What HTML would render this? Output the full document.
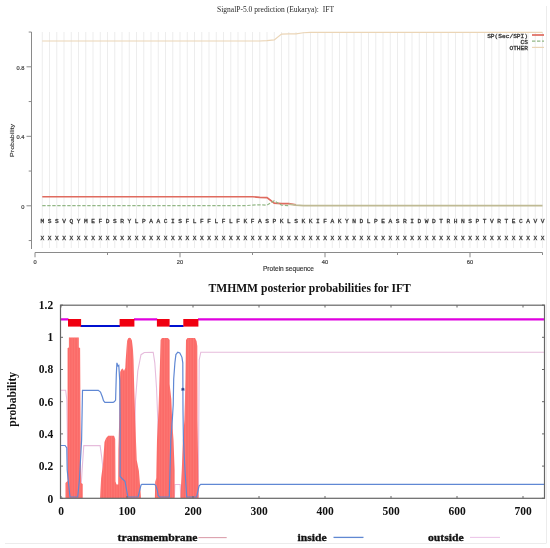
<!DOCTYPE html><html><head><meta charset="utf-8"><style>html,body{margin:0;padding:0;background:#fff;}svg{display:block;will-change:transform;filter:blur(0.3px);}</style></head><body>
<svg width="550" height="548" viewBox="0 0 550 548">
<rect width="550" height="548" fill="#fff"/>
<text x="217" y="11.9" font-family="Liberation Serif" font-size="8.4" fill="#2a2a2a" textLength="117" lengthAdjust="spacingAndGlyphs">SignalP-5.0 prediction (Eukarya):&#160; IFT</text>
<path d="M42.25 32V248 M49.50 32V248 M56.75 32V248 M64.00 32V248 M71.25 32V248 M78.50 32V248 M85.75 32V248 M93.00 32V248 M100.25 32V248 M107.50 32V248 M114.75 32V248 M122.00 32V248 M129.25 32V248 M136.50 32V248 M143.75 32V248 M151.00 32V248 M158.25 32V248 M165.50 32V248 M172.75 32V248 M180.00 32V248 M187.25 32V248 M194.50 32V248 M201.75 32V248 M209.00 32V248 M216.25 32V248 M223.50 32V248 M230.75 32V248 M238.00 32V248 M245.25 32V248 M252.50 32V248 M259.75 32V248 M267.00 32V248 M274.25 32V248 M281.50 32V248 M288.75 32V248 M296.00 32V248 M303.25 32V248 M310.50 32V248 M317.75 32V248 M325.00 32V248 M332.25 32V248 M339.50 32V248 M346.75 32V248 M354.00 32V248 M361.25 32V248 M368.50 32V248 M375.75 32V248 M383.00 32V248 M390.25 32V248 M397.50 32V248 M404.75 32V248 M412.00 32V248 M419.25 32V248 M426.50 32V248 M433.75 32V248 M441.00 32V248 M448.25 32V248 M455.50 32V248 M462.75 32V248 M470.00 32V248 M477.25 32V248 M484.50 32V248 M491.75 32V248 M499.00 32V248 M506.25 32V248 M513.50 32V248 M520.75 32V248 M528.00 32V248 M535.25 32V248 M542.50 32V248" stroke="#e9e9e9" stroke-width="0.8" fill="none"/>
<path d="M31.5 32V249" stroke="#8a8a8a" stroke-width="1" fill="none"/>
<path d="M28.7 32.05H31.5 M26.5 66.80H31.5 M28.7 101.55H31.5 M26.5 136.30H31.5 M28.7 171.05H31.5 M26.5 205.80H31.5 M28.7 240.55H31.5" stroke="#8a8a8a" stroke-width="1" fill="none"/>
<text x="24.4" y="69.60" font-family="Liberation Sans" font-size="5.7" fill="#444" stroke="#444" stroke-width="0.2" text-anchor="end">0.8</text>
<text x="24.4" y="139.10" font-family="Liberation Sans" font-size="5.7" fill="#444" stroke="#444" stroke-width="0.2" text-anchor="end">0.4</text>
<text x="24.4" y="208.60" font-family="Liberation Sans" font-size="5.7" fill="#444" stroke="#444" stroke-width="0.2" text-anchor="end">0</text>
<text transform="translate(14,140.5) rotate(-90)" font-family="Liberation Sans" font-size="6.2" fill="#333" stroke="#333" stroke-width="0.15" text-anchor="middle" textLength="32.8" lengthAdjust="spacingAndGlyphs">Probability</text>
<path d="M35.00 252.5H542.50" stroke="#8a8a8a" stroke-width="1.1" fill="none"/>
<path d="M35.00 252.5V257.3 M107.50 252.5V255 M180.00 252.5V257.3 M252.50 252.5V255 M325.00 252.5V257.3 M397.50 252.5V255 M470.00 252.5V257.3 M542.50 252.5V255" stroke="#8a8a8a" stroke-width="1" fill="none"/>
<text x="35.00" y="263.7" font-family="Liberation Sans" font-size="5.7" fill="#444" stroke="#444" stroke-width="0.2" text-anchor="middle">0</text>
<text x="180.00" y="263.7" font-family="Liberation Sans" font-size="5.7" fill="#444" stroke="#444" stroke-width="0.2" text-anchor="middle">20</text>
<text x="325.00" y="263.7" font-family="Liberation Sans" font-size="5.7" fill="#444" stroke="#444" stroke-width="0.2" text-anchor="middle">40</text>
<text x="470.00" y="263.7" font-family="Liberation Sans" font-size="5.7" fill="#444" stroke="#444" stroke-width="0.2" text-anchor="middle">60</text>
<text x="263" y="271.2" font-family="Liberation Sans" font-size="7.1" fill="#333" stroke="#333" stroke-width="0.15" textLength="51" lengthAdjust="spacingAndGlyphs">Protein sequence</text>
<text x="42.25" y="223.2" font-family="Liberation Mono" font-size="6.2" fill="#3a3a3a" stroke="#3a3a3a" stroke-width="0.3" text-anchor="middle">M</text>
<text x="49.50" y="223.2" font-family="Liberation Mono" font-size="6.2" fill="#3a3a3a" stroke="#3a3a3a" stroke-width="0.3" text-anchor="middle">S</text>
<text x="56.75" y="223.2" font-family="Liberation Mono" font-size="6.2" fill="#3a3a3a" stroke="#3a3a3a" stroke-width="0.3" text-anchor="middle">S</text>
<text x="64.00" y="223.2" font-family="Liberation Mono" font-size="6.2" fill="#3a3a3a" stroke="#3a3a3a" stroke-width="0.3" text-anchor="middle">V</text>
<text x="71.25" y="223.2" font-family="Liberation Mono" font-size="6.2" fill="#3a3a3a" stroke="#3a3a3a" stroke-width="0.3" text-anchor="middle">Q</text>
<text x="78.50" y="223.2" font-family="Liberation Mono" font-size="6.2" fill="#3a3a3a" stroke="#3a3a3a" stroke-width="0.3" text-anchor="middle">Y</text>
<text x="85.75" y="223.2" font-family="Liberation Mono" font-size="6.2" fill="#3a3a3a" stroke="#3a3a3a" stroke-width="0.3" text-anchor="middle">M</text>
<text x="93.00" y="223.2" font-family="Liberation Mono" font-size="6.2" fill="#3a3a3a" stroke="#3a3a3a" stroke-width="0.3" text-anchor="middle">E</text>
<text x="100.25" y="223.2" font-family="Liberation Mono" font-size="6.2" fill="#3a3a3a" stroke="#3a3a3a" stroke-width="0.3" text-anchor="middle">F</text>
<text x="107.50" y="223.2" font-family="Liberation Mono" font-size="6.2" fill="#3a3a3a" stroke="#3a3a3a" stroke-width="0.3" text-anchor="middle">D</text>
<text x="114.75" y="223.2" font-family="Liberation Mono" font-size="6.2" fill="#3a3a3a" stroke="#3a3a3a" stroke-width="0.3" text-anchor="middle">S</text>
<text x="122.00" y="223.2" font-family="Liberation Mono" font-size="6.2" fill="#3a3a3a" stroke="#3a3a3a" stroke-width="0.3" text-anchor="middle">R</text>
<text x="129.25" y="223.2" font-family="Liberation Mono" font-size="6.2" fill="#3a3a3a" stroke="#3a3a3a" stroke-width="0.3" text-anchor="middle">Y</text>
<text x="136.50" y="223.2" font-family="Liberation Mono" font-size="6.2" fill="#3a3a3a" stroke="#3a3a3a" stroke-width="0.3" text-anchor="middle">L</text>
<text x="143.75" y="223.2" font-family="Liberation Mono" font-size="6.2" fill="#3a3a3a" stroke="#3a3a3a" stroke-width="0.3" text-anchor="middle">P</text>
<text x="151.00" y="223.2" font-family="Liberation Mono" font-size="6.2" fill="#3a3a3a" stroke="#3a3a3a" stroke-width="0.3" text-anchor="middle">A</text>
<text x="158.25" y="223.2" font-family="Liberation Mono" font-size="6.2" fill="#3a3a3a" stroke="#3a3a3a" stroke-width="0.3" text-anchor="middle">A</text>
<text x="165.50" y="223.2" font-family="Liberation Mono" font-size="6.2" fill="#3a3a3a" stroke="#3a3a3a" stroke-width="0.3" text-anchor="middle">C</text>
<text x="172.75" y="223.2" font-family="Liberation Mono" font-size="6.2" fill="#3a3a3a" stroke="#3a3a3a" stroke-width="0.3" text-anchor="middle">I</text>
<text x="180.00" y="223.2" font-family="Liberation Mono" font-size="6.2" fill="#3a3a3a" stroke="#3a3a3a" stroke-width="0.3" text-anchor="middle">S</text>
<text x="187.25" y="223.2" font-family="Liberation Mono" font-size="6.2" fill="#3a3a3a" stroke="#3a3a3a" stroke-width="0.3" text-anchor="middle">F</text>
<text x="194.50" y="223.2" font-family="Liberation Mono" font-size="6.2" fill="#3a3a3a" stroke="#3a3a3a" stroke-width="0.3" text-anchor="middle">L</text>
<text x="201.75" y="223.2" font-family="Liberation Mono" font-size="6.2" fill="#3a3a3a" stroke="#3a3a3a" stroke-width="0.3" text-anchor="middle">F</text>
<text x="209.00" y="223.2" font-family="Liberation Mono" font-size="6.2" fill="#3a3a3a" stroke="#3a3a3a" stroke-width="0.3" text-anchor="middle">F</text>
<text x="216.25" y="223.2" font-family="Liberation Mono" font-size="6.2" fill="#3a3a3a" stroke="#3a3a3a" stroke-width="0.3" text-anchor="middle">L</text>
<text x="223.50" y="223.2" font-family="Liberation Mono" font-size="6.2" fill="#3a3a3a" stroke="#3a3a3a" stroke-width="0.3" text-anchor="middle">F</text>
<text x="230.75" y="223.2" font-family="Liberation Mono" font-size="6.2" fill="#3a3a3a" stroke="#3a3a3a" stroke-width="0.3" text-anchor="middle">L</text>
<text x="238.00" y="223.2" font-family="Liberation Mono" font-size="6.2" fill="#3a3a3a" stroke="#3a3a3a" stroke-width="0.3" text-anchor="middle">F</text>
<text x="245.25" y="223.2" font-family="Liberation Mono" font-size="6.2" fill="#3a3a3a" stroke="#3a3a3a" stroke-width="0.3" text-anchor="middle">K</text>
<text x="252.50" y="223.2" font-family="Liberation Mono" font-size="6.2" fill="#3a3a3a" stroke="#3a3a3a" stroke-width="0.3" text-anchor="middle">F</text>
<text x="259.75" y="223.2" font-family="Liberation Mono" font-size="6.2" fill="#3a3a3a" stroke="#3a3a3a" stroke-width="0.3" text-anchor="middle">A</text>
<text x="267.00" y="223.2" font-family="Liberation Mono" font-size="6.2" fill="#3a3a3a" stroke="#3a3a3a" stroke-width="0.3" text-anchor="middle">S</text>
<text x="274.25" y="223.2" font-family="Liberation Mono" font-size="6.2" fill="#3a3a3a" stroke="#3a3a3a" stroke-width="0.3" text-anchor="middle">P</text>
<text x="281.50" y="223.2" font-family="Liberation Mono" font-size="6.2" fill="#3a3a3a" stroke="#3a3a3a" stroke-width="0.3" text-anchor="middle">K</text>
<text x="288.75" y="223.2" font-family="Liberation Mono" font-size="6.2" fill="#3a3a3a" stroke="#3a3a3a" stroke-width="0.3" text-anchor="middle">L</text>
<text x="296.00" y="223.2" font-family="Liberation Mono" font-size="6.2" fill="#3a3a3a" stroke="#3a3a3a" stroke-width="0.3" text-anchor="middle">S</text>
<text x="303.25" y="223.2" font-family="Liberation Mono" font-size="6.2" fill="#3a3a3a" stroke="#3a3a3a" stroke-width="0.3" text-anchor="middle">K</text>
<text x="310.50" y="223.2" font-family="Liberation Mono" font-size="6.2" fill="#3a3a3a" stroke="#3a3a3a" stroke-width="0.3" text-anchor="middle">K</text>
<text x="317.75" y="223.2" font-family="Liberation Mono" font-size="6.2" fill="#3a3a3a" stroke="#3a3a3a" stroke-width="0.3" text-anchor="middle">I</text>
<text x="325.00" y="223.2" font-family="Liberation Mono" font-size="6.2" fill="#3a3a3a" stroke="#3a3a3a" stroke-width="0.3" text-anchor="middle">F</text>
<text x="332.25" y="223.2" font-family="Liberation Mono" font-size="6.2" fill="#3a3a3a" stroke="#3a3a3a" stroke-width="0.3" text-anchor="middle">A</text>
<text x="339.50" y="223.2" font-family="Liberation Mono" font-size="6.2" fill="#3a3a3a" stroke="#3a3a3a" stroke-width="0.3" text-anchor="middle">K</text>
<text x="346.75" y="223.2" font-family="Liberation Mono" font-size="6.2" fill="#3a3a3a" stroke="#3a3a3a" stroke-width="0.3" text-anchor="middle">Y</text>
<text x="354.00" y="223.2" font-family="Liberation Mono" font-size="6.2" fill="#3a3a3a" stroke="#3a3a3a" stroke-width="0.3" text-anchor="middle">N</text>
<text x="361.25" y="223.2" font-family="Liberation Mono" font-size="6.2" fill="#3a3a3a" stroke="#3a3a3a" stroke-width="0.3" text-anchor="middle">D</text>
<text x="368.50" y="223.2" font-family="Liberation Mono" font-size="6.2" fill="#3a3a3a" stroke="#3a3a3a" stroke-width="0.3" text-anchor="middle">L</text>
<text x="375.75" y="223.2" font-family="Liberation Mono" font-size="6.2" fill="#3a3a3a" stroke="#3a3a3a" stroke-width="0.3" text-anchor="middle">P</text>
<text x="383.00" y="223.2" font-family="Liberation Mono" font-size="6.2" fill="#3a3a3a" stroke="#3a3a3a" stroke-width="0.3" text-anchor="middle">E</text>
<text x="390.25" y="223.2" font-family="Liberation Mono" font-size="6.2" fill="#3a3a3a" stroke="#3a3a3a" stroke-width="0.3" text-anchor="middle">A</text>
<text x="397.50" y="223.2" font-family="Liberation Mono" font-size="6.2" fill="#3a3a3a" stroke="#3a3a3a" stroke-width="0.3" text-anchor="middle">S</text>
<text x="404.75" y="223.2" font-family="Liberation Mono" font-size="6.2" fill="#3a3a3a" stroke="#3a3a3a" stroke-width="0.3" text-anchor="middle">R</text>
<text x="412.00" y="223.2" font-family="Liberation Mono" font-size="6.2" fill="#3a3a3a" stroke="#3a3a3a" stroke-width="0.3" text-anchor="middle">I</text>
<text x="419.25" y="223.2" font-family="Liberation Mono" font-size="6.2" fill="#3a3a3a" stroke="#3a3a3a" stroke-width="0.3" text-anchor="middle">D</text>
<text x="426.50" y="223.2" font-family="Liberation Mono" font-size="6.2" fill="#3a3a3a" stroke="#3a3a3a" stroke-width="0.3" text-anchor="middle">W</text>
<text x="433.75" y="223.2" font-family="Liberation Mono" font-size="6.2" fill="#3a3a3a" stroke="#3a3a3a" stroke-width="0.3" text-anchor="middle">D</text>
<text x="441.00" y="223.2" font-family="Liberation Mono" font-size="6.2" fill="#3a3a3a" stroke="#3a3a3a" stroke-width="0.3" text-anchor="middle">T</text>
<text x="448.25" y="223.2" font-family="Liberation Mono" font-size="6.2" fill="#3a3a3a" stroke="#3a3a3a" stroke-width="0.3" text-anchor="middle">R</text>
<text x="455.50" y="223.2" font-family="Liberation Mono" font-size="6.2" fill="#3a3a3a" stroke="#3a3a3a" stroke-width="0.3" text-anchor="middle">H</text>
<text x="462.75" y="223.2" font-family="Liberation Mono" font-size="6.2" fill="#3a3a3a" stroke="#3a3a3a" stroke-width="0.3" text-anchor="middle">N</text>
<text x="470.00" y="223.2" font-family="Liberation Mono" font-size="6.2" fill="#3a3a3a" stroke="#3a3a3a" stroke-width="0.3" text-anchor="middle">S</text>
<text x="477.25" y="223.2" font-family="Liberation Mono" font-size="6.2" fill="#3a3a3a" stroke="#3a3a3a" stroke-width="0.3" text-anchor="middle">P</text>
<text x="484.50" y="223.2" font-family="Liberation Mono" font-size="6.2" fill="#3a3a3a" stroke="#3a3a3a" stroke-width="0.3" text-anchor="middle">T</text>
<text x="491.75" y="223.2" font-family="Liberation Mono" font-size="6.2" fill="#3a3a3a" stroke="#3a3a3a" stroke-width="0.3" text-anchor="middle">V</text>
<text x="499.00" y="223.2" font-family="Liberation Mono" font-size="6.2" fill="#3a3a3a" stroke="#3a3a3a" stroke-width="0.3" text-anchor="middle">R</text>
<text x="506.25" y="223.2" font-family="Liberation Mono" font-size="6.2" fill="#3a3a3a" stroke="#3a3a3a" stroke-width="0.3" text-anchor="middle">T</text>
<text x="513.50" y="223.2" font-family="Liberation Mono" font-size="6.2" fill="#3a3a3a" stroke="#3a3a3a" stroke-width="0.3" text-anchor="middle">E</text>
<text x="520.75" y="223.2" font-family="Liberation Mono" font-size="6.2" fill="#3a3a3a" stroke="#3a3a3a" stroke-width="0.3" text-anchor="middle">C</text>
<text x="528.00" y="223.2" font-family="Liberation Mono" font-size="6.2" fill="#3a3a3a" stroke="#3a3a3a" stroke-width="0.3" text-anchor="middle">A</text>
<text x="535.25" y="223.2" font-family="Liberation Mono" font-size="6.2" fill="#3a3a3a" stroke="#3a3a3a" stroke-width="0.3" text-anchor="middle">V</text>
<text x="542.50" y="223.2" font-family="Liberation Mono" font-size="6.2" fill="#3a3a3a" stroke="#3a3a3a" stroke-width="0.3" text-anchor="middle">V</text>
<text x="42.25" y="240.2" font-family="Liberation Mono" font-size="6.2" fill="#3a3a3a" stroke="#3a3a3a" stroke-width="0.3" text-anchor="middle">X</text>
<text x="49.50" y="240.2" font-family="Liberation Mono" font-size="6.2" fill="#3a3a3a" stroke="#3a3a3a" stroke-width="0.3" text-anchor="middle">X</text>
<text x="56.75" y="240.2" font-family="Liberation Mono" font-size="6.2" fill="#3a3a3a" stroke="#3a3a3a" stroke-width="0.3" text-anchor="middle">X</text>
<text x="64.00" y="240.2" font-family="Liberation Mono" font-size="6.2" fill="#3a3a3a" stroke="#3a3a3a" stroke-width="0.3" text-anchor="middle">X</text>
<text x="71.25" y="240.2" font-family="Liberation Mono" font-size="6.2" fill="#3a3a3a" stroke="#3a3a3a" stroke-width="0.3" text-anchor="middle">X</text>
<text x="78.50" y="240.2" font-family="Liberation Mono" font-size="6.2" fill="#3a3a3a" stroke="#3a3a3a" stroke-width="0.3" text-anchor="middle">X</text>
<text x="85.75" y="240.2" font-family="Liberation Mono" font-size="6.2" fill="#3a3a3a" stroke="#3a3a3a" stroke-width="0.3" text-anchor="middle">X</text>
<text x="93.00" y="240.2" font-family="Liberation Mono" font-size="6.2" fill="#3a3a3a" stroke="#3a3a3a" stroke-width="0.3" text-anchor="middle">X</text>
<text x="100.25" y="240.2" font-family="Liberation Mono" font-size="6.2" fill="#3a3a3a" stroke="#3a3a3a" stroke-width="0.3" text-anchor="middle">X</text>
<text x="107.50" y="240.2" font-family="Liberation Mono" font-size="6.2" fill="#3a3a3a" stroke="#3a3a3a" stroke-width="0.3" text-anchor="middle">X</text>
<text x="114.75" y="240.2" font-family="Liberation Mono" font-size="6.2" fill="#3a3a3a" stroke="#3a3a3a" stroke-width="0.3" text-anchor="middle">X</text>
<text x="122.00" y="240.2" font-family="Liberation Mono" font-size="6.2" fill="#3a3a3a" stroke="#3a3a3a" stroke-width="0.3" text-anchor="middle">X</text>
<text x="129.25" y="240.2" font-family="Liberation Mono" font-size="6.2" fill="#3a3a3a" stroke="#3a3a3a" stroke-width="0.3" text-anchor="middle">X</text>
<text x="136.50" y="240.2" font-family="Liberation Mono" font-size="6.2" fill="#3a3a3a" stroke="#3a3a3a" stroke-width="0.3" text-anchor="middle">X</text>
<text x="143.75" y="240.2" font-family="Liberation Mono" font-size="6.2" fill="#3a3a3a" stroke="#3a3a3a" stroke-width="0.3" text-anchor="middle">X</text>
<text x="151.00" y="240.2" font-family="Liberation Mono" font-size="6.2" fill="#3a3a3a" stroke="#3a3a3a" stroke-width="0.3" text-anchor="middle">X</text>
<text x="158.25" y="240.2" font-family="Liberation Mono" font-size="6.2" fill="#3a3a3a" stroke="#3a3a3a" stroke-width="0.3" text-anchor="middle">X</text>
<text x="165.50" y="240.2" font-family="Liberation Mono" font-size="6.2" fill="#3a3a3a" stroke="#3a3a3a" stroke-width="0.3" text-anchor="middle">X</text>
<text x="172.75" y="240.2" font-family="Liberation Mono" font-size="6.2" fill="#3a3a3a" stroke="#3a3a3a" stroke-width="0.3" text-anchor="middle">X</text>
<text x="180.00" y="240.2" font-family="Liberation Mono" font-size="6.2" fill="#3a3a3a" stroke="#3a3a3a" stroke-width="0.3" text-anchor="middle">X</text>
<text x="187.25" y="240.2" font-family="Liberation Mono" font-size="6.2" fill="#3a3a3a" stroke="#3a3a3a" stroke-width="0.3" text-anchor="middle">X</text>
<text x="194.50" y="240.2" font-family="Liberation Mono" font-size="6.2" fill="#3a3a3a" stroke="#3a3a3a" stroke-width="0.3" text-anchor="middle">X</text>
<text x="201.75" y="240.2" font-family="Liberation Mono" font-size="6.2" fill="#3a3a3a" stroke="#3a3a3a" stroke-width="0.3" text-anchor="middle">X</text>
<text x="209.00" y="240.2" font-family="Liberation Mono" font-size="6.2" fill="#3a3a3a" stroke="#3a3a3a" stroke-width="0.3" text-anchor="middle">X</text>
<text x="216.25" y="240.2" font-family="Liberation Mono" font-size="6.2" fill="#3a3a3a" stroke="#3a3a3a" stroke-width="0.3" text-anchor="middle">X</text>
<text x="223.50" y="240.2" font-family="Liberation Mono" font-size="6.2" fill="#3a3a3a" stroke="#3a3a3a" stroke-width="0.3" text-anchor="middle">X</text>
<text x="230.75" y="240.2" font-family="Liberation Mono" font-size="6.2" fill="#3a3a3a" stroke="#3a3a3a" stroke-width="0.3" text-anchor="middle">X</text>
<text x="238.00" y="240.2" font-family="Liberation Mono" font-size="6.2" fill="#3a3a3a" stroke="#3a3a3a" stroke-width="0.3" text-anchor="middle">X</text>
<text x="245.25" y="240.2" font-family="Liberation Mono" font-size="6.2" fill="#3a3a3a" stroke="#3a3a3a" stroke-width="0.3" text-anchor="middle">X</text>
<text x="252.50" y="240.2" font-family="Liberation Mono" font-size="6.2" fill="#3a3a3a" stroke="#3a3a3a" stroke-width="0.3" text-anchor="middle">X</text>
<text x="259.75" y="240.2" font-family="Liberation Mono" font-size="6.2" fill="#3a3a3a" stroke="#3a3a3a" stroke-width="0.3" text-anchor="middle">X</text>
<text x="267.00" y="240.2" font-family="Liberation Mono" font-size="6.2" fill="#3a3a3a" stroke="#3a3a3a" stroke-width="0.3" text-anchor="middle">X</text>
<text x="274.25" y="240.2" font-family="Liberation Mono" font-size="6.2" fill="#3a3a3a" stroke="#3a3a3a" stroke-width="0.3" text-anchor="middle">X</text>
<text x="281.50" y="240.2" font-family="Liberation Mono" font-size="6.2" fill="#3a3a3a" stroke="#3a3a3a" stroke-width="0.3" text-anchor="middle">X</text>
<text x="288.75" y="240.2" font-family="Liberation Mono" font-size="6.2" fill="#3a3a3a" stroke="#3a3a3a" stroke-width="0.3" text-anchor="middle">X</text>
<text x="296.00" y="240.2" font-family="Liberation Mono" font-size="6.2" fill="#3a3a3a" stroke="#3a3a3a" stroke-width="0.3" text-anchor="middle">X</text>
<text x="303.25" y="240.2" font-family="Liberation Mono" font-size="6.2" fill="#3a3a3a" stroke="#3a3a3a" stroke-width="0.3" text-anchor="middle">X</text>
<text x="310.50" y="240.2" font-family="Liberation Mono" font-size="6.2" fill="#3a3a3a" stroke="#3a3a3a" stroke-width="0.3" text-anchor="middle">X</text>
<text x="317.75" y="240.2" font-family="Liberation Mono" font-size="6.2" fill="#3a3a3a" stroke="#3a3a3a" stroke-width="0.3" text-anchor="middle">X</text>
<text x="325.00" y="240.2" font-family="Liberation Mono" font-size="6.2" fill="#3a3a3a" stroke="#3a3a3a" stroke-width="0.3" text-anchor="middle">X</text>
<text x="332.25" y="240.2" font-family="Liberation Mono" font-size="6.2" fill="#3a3a3a" stroke="#3a3a3a" stroke-width="0.3" text-anchor="middle">X</text>
<text x="339.50" y="240.2" font-family="Liberation Mono" font-size="6.2" fill="#3a3a3a" stroke="#3a3a3a" stroke-width="0.3" text-anchor="middle">X</text>
<text x="346.75" y="240.2" font-family="Liberation Mono" font-size="6.2" fill="#3a3a3a" stroke="#3a3a3a" stroke-width="0.3" text-anchor="middle">X</text>
<text x="354.00" y="240.2" font-family="Liberation Mono" font-size="6.2" fill="#3a3a3a" stroke="#3a3a3a" stroke-width="0.3" text-anchor="middle">X</text>
<text x="361.25" y="240.2" font-family="Liberation Mono" font-size="6.2" fill="#3a3a3a" stroke="#3a3a3a" stroke-width="0.3" text-anchor="middle">X</text>
<text x="368.50" y="240.2" font-family="Liberation Mono" font-size="6.2" fill="#3a3a3a" stroke="#3a3a3a" stroke-width="0.3" text-anchor="middle">X</text>
<text x="375.75" y="240.2" font-family="Liberation Mono" font-size="6.2" fill="#3a3a3a" stroke="#3a3a3a" stroke-width="0.3" text-anchor="middle">X</text>
<text x="383.00" y="240.2" font-family="Liberation Mono" font-size="6.2" fill="#3a3a3a" stroke="#3a3a3a" stroke-width="0.3" text-anchor="middle">X</text>
<text x="390.25" y="240.2" font-family="Liberation Mono" font-size="6.2" fill="#3a3a3a" stroke="#3a3a3a" stroke-width="0.3" text-anchor="middle">X</text>
<text x="397.50" y="240.2" font-family="Liberation Mono" font-size="6.2" fill="#3a3a3a" stroke="#3a3a3a" stroke-width="0.3" text-anchor="middle">X</text>
<text x="404.75" y="240.2" font-family="Liberation Mono" font-size="6.2" fill="#3a3a3a" stroke="#3a3a3a" stroke-width="0.3" text-anchor="middle">X</text>
<text x="412.00" y="240.2" font-family="Liberation Mono" font-size="6.2" fill="#3a3a3a" stroke="#3a3a3a" stroke-width="0.3" text-anchor="middle">X</text>
<text x="419.25" y="240.2" font-family="Liberation Mono" font-size="6.2" fill="#3a3a3a" stroke="#3a3a3a" stroke-width="0.3" text-anchor="middle">X</text>
<text x="426.50" y="240.2" font-family="Liberation Mono" font-size="6.2" fill="#3a3a3a" stroke="#3a3a3a" stroke-width="0.3" text-anchor="middle">X</text>
<text x="433.75" y="240.2" font-family="Liberation Mono" font-size="6.2" fill="#3a3a3a" stroke="#3a3a3a" stroke-width="0.3" text-anchor="middle">X</text>
<text x="441.00" y="240.2" font-family="Liberation Mono" font-size="6.2" fill="#3a3a3a" stroke="#3a3a3a" stroke-width="0.3" text-anchor="middle">X</text>
<text x="448.25" y="240.2" font-family="Liberation Mono" font-size="6.2" fill="#3a3a3a" stroke="#3a3a3a" stroke-width="0.3" text-anchor="middle">X</text>
<text x="455.50" y="240.2" font-family="Liberation Mono" font-size="6.2" fill="#3a3a3a" stroke="#3a3a3a" stroke-width="0.3" text-anchor="middle">X</text>
<text x="462.75" y="240.2" font-family="Liberation Mono" font-size="6.2" fill="#3a3a3a" stroke="#3a3a3a" stroke-width="0.3" text-anchor="middle">X</text>
<text x="470.00" y="240.2" font-family="Liberation Mono" font-size="6.2" fill="#3a3a3a" stroke="#3a3a3a" stroke-width="0.3" text-anchor="middle">X</text>
<text x="477.25" y="240.2" font-family="Liberation Mono" font-size="6.2" fill="#3a3a3a" stroke="#3a3a3a" stroke-width="0.3" text-anchor="middle">X</text>
<text x="484.50" y="240.2" font-family="Liberation Mono" font-size="6.2" fill="#3a3a3a" stroke="#3a3a3a" stroke-width="0.3" text-anchor="middle">X</text>
<text x="491.75" y="240.2" font-family="Liberation Mono" font-size="6.2" fill="#3a3a3a" stroke="#3a3a3a" stroke-width="0.3" text-anchor="middle">X</text>
<text x="499.00" y="240.2" font-family="Liberation Mono" font-size="6.2" fill="#3a3a3a" stroke="#3a3a3a" stroke-width="0.3" text-anchor="middle">X</text>
<text x="506.25" y="240.2" font-family="Liberation Mono" font-size="6.2" fill="#3a3a3a" stroke="#3a3a3a" stroke-width="0.3" text-anchor="middle">X</text>
<text x="513.50" y="240.2" font-family="Liberation Mono" font-size="6.2" fill="#3a3a3a" stroke="#3a3a3a" stroke-width="0.3" text-anchor="middle">X</text>
<text x="520.75" y="240.2" font-family="Liberation Mono" font-size="6.2" fill="#3a3a3a" stroke="#3a3a3a" stroke-width="0.3" text-anchor="middle">X</text>
<text x="528.00" y="240.2" font-family="Liberation Mono" font-size="6.2" fill="#3a3a3a" stroke="#3a3a3a" stroke-width="0.3" text-anchor="middle">X</text>
<text x="535.25" y="240.2" font-family="Liberation Mono" font-size="6.2" fill="#3a3a3a" stroke="#3a3a3a" stroke-width="0.3" text-anchor="middle">X</text>
<text x="542.50" y="240.2" font-family="Liberation Mono" font-size="6.2" fill="#3a3a3a" stroke="#3a3a3a" stroke-width="0.3" text-anchor="middle">X</text>
<polyline points="42.25,41.00 49.50,41.00 56.75,41.00 64.00,41.00 71.25,41.00 78.50,41.00 85.75,41.00 93.00,41.00 100.25,41.00 107.50,41.00 114.75,41.00 122.00,41.00 129.25,41.00 136.50,41.00 143.75,41.00 151.00,41.00 158.25,41.00 165.50,41.00 172.75,41.00 180.00,41.00 187.25,41.00 194.50,41.00 201.75,41.00 209.00,41.00 216.25,41.00 223.50,41.00 230.75,41.00 238.00,41.00 245.25,41.00 252.50,41.00 259.75,41.00 267.00,40.56 274.25,39.87 281.50,34.14 288.75,33.96 296.00,33.79 303.25,32.75 310.50,32.40 317.75,32.40 325.00,32.40 332.25,32.40 339.50,32.40 346.75,32.40 354.00,32.40 361.25,32.40 368.50,32.40 375.75,32.40 383.00,32.40 390.25,32.40 397.50,32.40 404.75,32.40 412.00,32.40 419.25,32.40 426.50,32.40 433.75,32.40 441.00,32.40 448.25,32.40 455.50,32.40 462.75,32.40 470.00,32.40 477.25,32.40 484.50,32.40 491.75,32.40 499.00,32.40 506.25,32.40 513.50,32.40 520.75,32.40 528.00,32.40 535.25,32.40 542.50,32.40" fill="none" stroke="#ebd5b6" stroke-width="1.2"/>
<polyline points="42.25,196.77 49.50,196.77 56.75,196.77 64.00,196.77 71.25,196.77 78.50,196.77 85.75,196.77 93.00,196.77 100.25,196.77 107.50,196.77 114.75,196.77 122.00,196.77 129.25,196.77 136.50,196.77 143.75,196.77 151.00,196.77 158.25,196.77 165.50,196.77 172.75,196.77 180.00,196.77 187.25,196.77 194.50,196.77 201.75,196.77 209.00,196.77 216.25,196.77 223.50,196.77 230.75,196.77 238.00,196.77 245.25,196.77 252.50,196.77 259.75,197.29 267.00,197.63 274.25,203.19 281.50,203.54 288.75,203.72 296.00,204.76" fill="none" stroke="#df6b5f" stroke-width="1.7"/>
<polyline points="42.25,205.68 49.50,205.68 56.75,205.68 64.00,205.68 71.25,205.68 78.50,205.68 85.75,205.68 93.00,205.68 100.25,205.68 107.50,205.68 114.75,205.68 122.00,205.68 129.25,205.68 136.50,205.68 143.75,205.68 151.00,205.68 158.25,205.68 165.50,205.68 172.75,205.68 180.00,205.68 187.25,205.68 194.50,205.68 201.75,205.68 209.00,205.68 216.25,205.68 223.50,205.68 230.75,205.68 238.00,205.68 245.25,205.68 252.50,205.11 259.75,204.76 267.00,205.11 274.25,200.76 281.50,205.11 288.75,205.63" fill="none" stroke="#93b886" stroke-width="1.2" stroke-dasharray="3.4 1.6"/>
<path d="M288.75 204.24L296.00 205.11L303.25 205.71H542.50" fill="none" stroke="#bfba94" stroke-width="1.7"/>
<text x="528" y="38.10" font-family="Liberation Mono" font-size="6.2" fill="#404040" stroke="#404040" stroke-width="0.35" text-anchor="end">SP(Sec/SPI)</text>
<path d="M532 35.00H544" stroke="#df6b5f" stroke-width="1.7"/>
<text x="528" y="44.25" font-family="Liberation Mono" font-size="6.2" fill="#404040" stroke="#404040" stroke-width="0.35" text-anchor="end">CS</text>
<path d="M532 41.20H544" stroke="#93b886" stroke-width="1.2" stroke-dasharray="3.4 1.6"/>
<text x="528" y="50.40" font-family="Liberation Mono" font-size="6.2" fill="#404040" stroke="#404040" stroke-width="0.35" text-anchor="end">OTHER</text>
<path d="M532 47.40H544" stroke="#ebd5b6" stroke-width="1.2"/>
<path d="M546.5 6V543" stroke="#ececec" stroke-width="1"/>
<path d="M5 543.5H546.5" stroke="#ececec" stroke-width="1"/>
<text x="309.6" y="291.7" font-family="Liberation Serif" font-size="11.6" font-weight="bold" fill="#111" text-anchor="middle">TMHMM posterior probabilities for IFT</text>
<polyline points="61,390.3 65.7,390.3 66.8,400 67.5,440 68.5,497 80.5,497 82.1,470 83.8,445.6 100.1,445.6 101.6,456.5 103,468.2 105,497 133,497 135,420 135.5,400 137.8,371 141,354.7 144.3,352.5 153.2,352.2 154.8,362.8 156.5,387.5 157.8,420 158.5,497 174.4,497 174.9,484.5 180.2,484.5 180.7,497 198.3,497 198.8,420 199.2,360 200.8,352.2 544.5,352.2" fill="none" stroke="#e6bcdc" stroke-width="1.1"/>
<defs><pattern id="st" x="0.3" y="0" width="2.64" height="20" patternUnits="userSpaceOnUse"><rect width="1" height="20" fill="#ff9a90" opacity="0.3"/></pattern></defs>
<polygon points="65.5,498 65.5,483 67.6,481 67.6,348 68.9,347.5 68.9,337.4 78.8,337.4 78.8,347.5 80.1,348 80.5,420 81,483 82.7,484 82.7,498" fill="#fb6a68"/>
<polygon points="100.1,498 101.1,478.5 103,464 104.5,442 106,438.3 108.2,435.8 114,435.8 115.2,439 115.5,481.4 116.5,484.5 118.2,484.5 118.4,450 119.2,420 119.8,390 120.2,372 121.3,369.5 122.7,368.5 124,371 125.3,368 125.7,360 126.4,350 127.1,341 128.2,338.3 129.5,337.8 130.8,338.3 131.9,340.5 133,350 133.5,360 134,380 134.6,400 135.2,420 136.7,460 138.9,471 141,498" fill="#fb6a68"/>
<polygon points="154.9,498 155.2,482 156.3,478 157,440 158.5,410 159.8,370 160.6,340 162,337.9 168,337.9 169.6,340 169.6,384 171.3,399 172.1,420 173.5,440 174.6,470 174.6,498" fill="#fb6a68"/>
<polygon points="180.5,498 180.8,490 181.8,470 182.9,440 184.4,420 185.5,380 186,340 187.5,337.9 195,337.9 196.5,341 197.3,346 197.5,420 198.2,470 198.5,498" fill="#fb6a68"/>
<polygon points="65.5,498 65.5,483 67.6,481 67.6,348 68.9,347.5 68.9,337.4 78.8,337.4 78.8,347.5 80.1,348 80.5,420 81,483 82.7,484 82.7,498" fill="url(#st)"/>
<polygon points="100.1,498 101.1,478.5 103,464 104.5,442 106,438.3 108.2,435.8 114,435.8 115.2,439 115.5,481.4 116.5,484.5 118.2,484.5 118.4,450 119.2,420 119.8,390 120.2,372 121.3,369.5 122.7,368.5 124,371 125.3,368 125.7,360 126.4,350 127.1,341 128.2,338.3 129.5,337.8 130.8,338.3 131.9,340.5 133,350 133.5,360 134,380 134.6,400 135.2,420 136.7,460 138.9,471 141,498" fill="url(#st)"/>
<polygon points="154.9,498 155.2,482 156.3,478 157,440 158.5,410 159.8,370 160.6,340 162,337.9 168,337.9 169.6,340 169.6,384 171.3,399 172.1,420 173.5,440 174.6,470 174.6,498" fill="url(#st)"/>
<polygon points="180.5,498 180.8,490 181.8,470 182.9,440 184.4,420 185.5,380 186,340 187.5,337.9 195,337.9 196.5,341 197.3,346 197.5,420 198.2,470 198.5,498" fill="url(#st)"/>
<polyline points="61,445.5 65.1,445.5 66.8,448 67.2,470 68.4,482 70,497 77.7,497 79.4,480 81.6,440 82.5,390.3 98.3,390.3 100.5,392 102.4,397 103.5,400.7 104.9,402.4 113.1,402.4 114.5,401.5 115.6,400 116.3,375 116.9,362.9 118,366 118.8,365.4 119.7,380 120.1,420 120.1,476.3 122,478.5 125,481.4 127.9,497 138.1,497 141,485 141.8,484.4 154.4,484.4 155.8,485.5 157.2,490 158.2,495.5 159.5,497 169.3,497 170,470 170.8,440 172.3,420 173.2,405 173.7,379 174.9,362.8 175.9,354.6 177.8,352.2 179.8,353 181.9,357.1 182.8,362.8 183,410 183.4,440 185,470 186.7,497 196.6,497 199,486 200.7,484.4 544.5,484.4" fill="none" stroke="#6088d4" stroke-width="1.2"/>
<path d="M181.3 389.3H184.5M182.9 387.7V390.9M181.7 388.1L184.1 390.5M184.1 388.1L181.7 390.5" stroke="#27408a" stroke-width="0.9"/>
<path d="M61 319.4H68.5M134 319.4H157.2M198 319.4H544.5" stroke="#e000e0" stroke-width="2.4"/>
<path d="M80.5 326H120M169.3 326H183.6" stroke="#0010d0" stroke-width="2.2"/>
<rect x="68" y="319" width="13.1" height="7.6" fill="#f00010"/>
<rect x="119.6" y="319" width="14.8" height="7.6" fill="#f00010"/>
<rect x="156.9" y="319" width="12.7" height="7.6" fill="#f00010"/>
<rect x="183.3" y="319" width="15.1" height="7.6" fill="#f00010"/>
<rect x="60.5" y="305.2" width="484" height="193.1" fill="none" stroke="#666" stroke-width="1.2"/>
<path d="M60.5 498.30H63 M544.5 498.30H542 M60.5 466.10H63 M544.5 466.10H542 M60.5 433.90H63 M544.5 433.90H542 M60.5 401.70H63 M544.5 401.70H542 M60.5 369.50H63 M544.5 369.50H542 M60.5 337.30H63 M544.5 337.30H542 M60.5 305.10H63 M544.5 305.10H542 M61.00 498.3V496 M61.00 305.2V307.5 M127.00 498.3V496 M127.00 305.2V307.5 M193.00 498.3V496 M193.00 305.2V307.5 M259.00 498.3V496 M259.00 305.2V307.5 M325.00 498.3V496 M325.00 305.2V307.5 M391.00 498.3V496 M391.00 305.2V307.5 M457.00 498.3V496 M457.00 305.2V307.5 M523.00 498.3V496 M523.00 305.2V307.5" stroke="#666" stroke-width="1"/>
<text x="53.2" y="502.80" font-family="Liberation Serif" font-size="11.5" font-weight="bold" fill="#111" text-anchor="end">0</text>
<text x="53.2" y="470.45" font-family="Liberation Serif" font-size="11.5" font-weight="bold" fill="#111" text-anchor="end">0.2</text>
<text x="53.2" y="438.10" font-family="Liberation Serif" font-size="11.5" font-weight="bold" fill="#111" text-anchor="end">0.4</text>
<text x="53.2" y="405.75" font-family="Liberation Serif" font-size="11.5" font-weight="bold" fill="#111" text-anchor="end">0.6</text>
<text x="53.2" y="373.40" font-family="Liberation Serif" font-size="11.5" font-weight="bold" fill="#111" text-anchor="end">0.8</text>
<text x="53.2" y="341.05" font-family="Liberation Serif" font-size="11.5" font-weight="bold" fill="#111" text-anchor="end">1</text>
<text x="53.2" y="308.70" font-family="Liberation Serif" font-size="11.5" font-weight="bold" fill="#111" text-anchor="end">1.2</text>
<text x="61.00" y="514.6" font-family="Liberation Serif" font-size="11.5" font-weight="bold" fill="#111" text-anchor="middle">0</text>
<text x="127.00" y="514.6" font-family="Liberation Serif" font-size="11.5" font-weight="bold" fill="#111" text-anchor="middle">100</text>
<text x="193.00" y="514.6" font-family="Liberation Serif" font-size="11.5" font-weight="bold" fill="#111" text-anchor="middle">200</text>
<text x="259.00" y="514.6" font-family="Liberation Serif" font-size="11.5" font-weight="bold" fill="#111" text-anchor="middle">300</text>
<text x="325.00" y="514.6" font-family="Liberation Serif" font-size="11.5" font-weight="bold" fill="#111" text-anchor="middle">400</text>
<text x="391.00" y="514.6" font-family="Liberation Serif" font-size="11.5" font-weight="bold" fill="#111" text-anchor="middle">500</text>
<text x="457.00" y="514.6" font-family="Liberation Serif" font-size="11.5" font-weight="bold" fill="#111" text-anchor="middle">600</text>
<text x="523.00" y="514.6" font-family="Liberation Serif" font-size="11.5" font-weight="bold" fill="#111" text-anchor="middle">700</text>
<text transform="translate(16.4,399.3) rotate(-90)" font-family="Liberation Serif" font-size="11.5" font-weight="bold" fill="#111" text-anchor="middle">probability</text>
<text x="117.6" y="541.2" font-family="Liberation Serif" font-size="11.2" font-weight="bold" fill="#111" stroke="#111" stroke-width="0.3" textLength="79.8" lengthAdjust="spacingAndGlyphs">transmembrane</text>
<path d="M198.4 537.6H226.7" stroke="#dca0ac" stroke-width="1.1"/>
<text x="297.6" y="541.2" font-family="Liberation Serif" font-size="11.2" font-weight="bold" fill="#111" stroke="#111" stroke-width="0.3" textLength="29.1" lengthAdjust="spacingAndGlyphs">inside</text>
<path d="M333.5 537.4H363.5" stroke="#6088d2" stroke-width="1.3"/>
<text x="428" y="541.2" font-family="Liberation Serif" font-size="11.2" font-weight="bold" fill="#111" stroke="#111" stroke-width="0.3" textLength="35.8" lengthAdjust="spacingAndGlyphs">outside</text>
<path d="M470 537.4H500" stroke="#ecc6e8" stroke-width="1.1"/>
</svg></body></html>
